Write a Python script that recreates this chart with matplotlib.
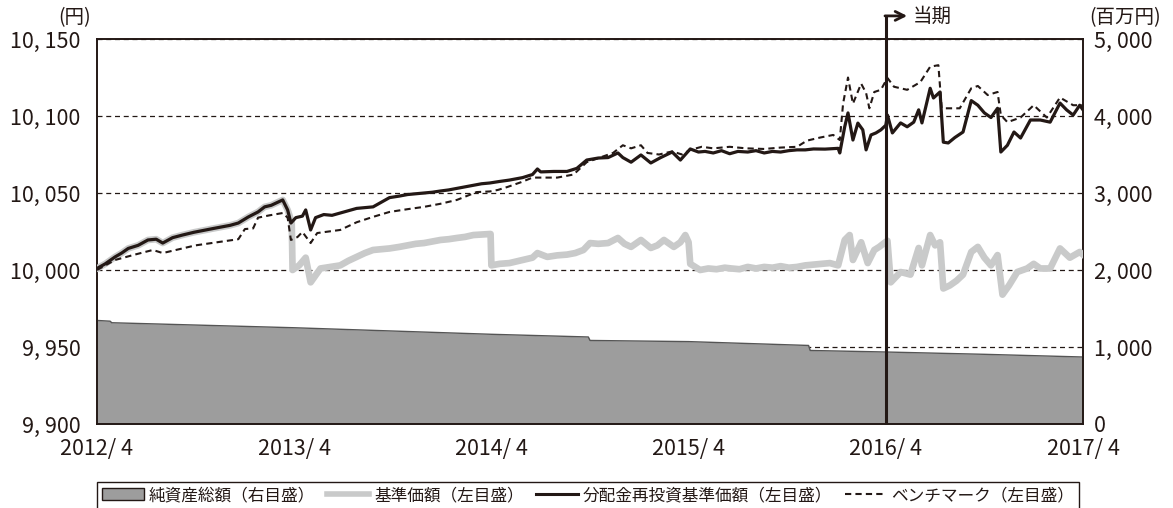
import matplotlib
matplotlib.use("Agg")
import matplotlib.pyplot as plt
from matplotlib.ticker import FuncFormatter, FixedLocator
from matplotlib.patches import Patch
from matplotlib.lines import Line2D

# ---------------- data (x = months since 2012/4) ----------------
xtick_pos = [0, 12, 24, 36, 48, 60]
xtick_labels = ["2012/ 4", "2013/ 4", "2014/ 4", "2015/ 4", "2016/ 4", "2017/ 4"]

# 分配金再投資基準価額 (left axis, yen)
reinv_x = [0, 0.5, 1.1, 1.5, 1.9, 2.5, 3.1, 3.6, 4.0, 4.6, 5.2, 5.9, 6.6, 7.1, 7.6, 8.1, 8.6,
           9.2, 9.8, 10.2, 10.6, 11.0, 11.3, 11.6, 11.8, 12.1, 12.5, 12.7, 13.0, 13.3, 13.8,
           14.3, 14.8, 15.3, 15.8, 16.3, 16.8, 17.3, 17.8, 18.4, 18.9, 19.4, 19.9, 20.4, 20.9,
           21.4, 21.9, 22.4, 22.9, 23.4, 23.9, 24.5, 25.1, 25.9, 26.5, 26.8, 27.0, 27.8, 28.6,
           29.2, 29.8, 30.5, 31.1, 31.7, 32.0, 32.5, 33.1, 33.7, 34.3, 35.0, 35.5, 36.1, 36.6,
           37.0, 37.5, 38.0, 38.5, 39.0, 39.6, 40.1, 40.6, 41.1, 41.6, 42.1, 42.6, 43.1, 43.6,
           44.3, 45.1, 45.2, 45.5, 45.7, 46.0, 46.3, 46.6, 46.8, 47.1, 47.4, 47.7, 48.0, 48.1,
           48.4, 48.9, 49.3, 49.7, 50.0, 50.2, 50.5, 50.7, 50.9, 51.3, 51.5, 51.8, 52.2, 52.7,
           53.2, 53.6, 54.0, 54.4, 54.8, 55.0, 55.4, 55.8, 56.2, 56.8, 57.4, 58.0, 58.6, 59.0,
           59.4, 59.8, 60.0]
reinv_y = [10001, 10004, 10008.5, 10011, 10014, 10016, 10019.5, 10020, 10017.5, 10021, 10022.7,
           10024.5, 10026, 10027, 10028, 10029, 10030.5, 10034.4, 10037.7, 10041, 10042, 10044,
           10045.5, 10039, 10030.5, 10034, 10035, 10039, 10026, 10034, 10036, 10035.5, 10037,
           10038.5, 10040, 10040.5, 10041, 10044, 10047, 10048, 10049, 10049.5, 10050, 10050.5,
           10051.3, 10052, 10053, 10054, 10055, 10056, 10056.5, 10057.5, 10058.4, 10060, 10062,
           10065.6, 10063.7, 10064, 10064, 10066, 10071.4, 10072.7, 10073, 10076, 10073, 10070,
           10074.7, 10069.5, 10073, 10076.6, 10071.4, 10078.6, 10076.6, 10077, 10076, 10077.5,
           10075.5, 10077, 10076.6, 10077.5, 10076, 10077, 10076.6, 10077.5, 10078, 10078,
           10078.6, 10078.5, 10079, 10076, 10093, 10102, 10084.4, 10095.4, 10091, 10078, 10087.7,
           10089, 10091, 10094, 10100.6, 10089, 10095.5, 10093, 10096, 10104, 10095.5, 10109,
           10118, 10111.7, 10115.6, 10083, 10082.5, 10086, 10089.6, 10110, 10107, 10102, 10099,
           10105, 10076.6, 10081, 10089.6, 10085.7, 10097.4, 10097.4, 10096, 10108.4, 10104,
           10100.6, 10107, 10104]

# 基準価額 (left axis, yen)
base_x = [0, 0.5, 1.1, 1.5, 1.9, 2.5, 3.1, 3.6, 4.0, 4.6, 5.2, 5.9, 6.6, 7.1, 7.6, 8.1, 8.6,
          9.2, 9.8, 10.2, 10.6, 11.0, 11.3, 11.6, 11.85, 11.9, 12.3, 12.7, 13.0, 13.6, 14.2,
          14.8, 15.3, 15.8, 16.3, 16.8, 17.3, 17.8, 18.4, 18.9, 19.4, 19.9, 20.4, 20.9, 21.4,
          21.9, 22.4, 22.9, 23.4, 23.95, 24.0, 24.5, 25.1, 25.9, 26.5, 26.8, 27.4, 28.0, 28.6,
          29.1, 29.6, 30.0, 30.5, 31.1, 31.7, 32.1, 32.5, 33.1, 33.7, 34.1, 34.5, 35.1, 35.5,
          35.8, 36.0, 36.1, 36.7, 37.2, 37.7, 38.2, 38.6, 39.1, 39.6, 40.1, 40.6, 41.1, 41.6,
          42.1, 42.6, 43.1, 43.6, 44.1, 44.6, 45.1, 45.5, 45.8, 46.0, 46.5, 46.9, 47.3, 47.6,
          47.9, 48.1, 48.3, 48.9, 49.5, 50.0, 50.2, 50.7, 51.0, 51.3, 51.5, 51.9, 52.3, 52.7,
          53.2, 53.6, 54.0, 54.4, 54.8, 55.1, 55.5, 56.0, 56.6, 57.0, 57.4, 58.0, 58.6, 59.2,
          59.8, 60.0]
base_y = [10001, 10004, 10008.5, 10011, 10014, 10016, 10019.5, 10020, 10017.5, 10021, 10022.7,
          10024.5, 10026, 10027, 10028, 10029, 10030.5, 10034.4, 10037.7, 10041, 10042, 10044,
          10045.5, 10039, 10031, 10000, 10003, 10008, 9992, 10001, 10002, 10003, 10006, 10008.5,
          10011, 10013, 10013.5, 10014, 10015, 10016, 10017, 10017.5, 10018.5, 10019.5, 10020,
          10020.8, 10021.5, 10022.7, 10023, 10023.4, 10003, 10004, 10004.5, 10006.5, 10008,
          10011, 10008.5, 10009.5, 10010, 10011, 10013, 10017.5, 10017, 10017.5, 10020.8, 10017,
          10015, 10019.5, 10014.3, 10016, 10019.5, 10015, 10018, 10022.7, 10018, 10004, 10000,
          10001, 10000.5, 10001.5, 10001, 10000.5, 10002, 10001, 10002, 10001.5, 10002.5,
          10001.5, 10002, 10003, 10003.5, 10004, 10004.5, 10003, 10019.5, 10022.7, 10006.5,
          10018, 10004.5, 10013, 10015, 10017.5, 10019, 9992, 9998.7, 9997, 10014.3, 10003,
          10022.7, 10016, 10018, 9988, 9990, 9993, 9997, 10011.7, 10015, 10008, 10003, 10009.7,
          9984, 9990, 9998.7, 10001, 10004, 10001, 10001, 10014, 10008, 10011.7, 10010]

# ベンチマーク (left axis)
bench_x = [0, 1.1, 2.3, 3.4, 4.0, 5.0, 6.0, 7.3, 8.6, 9.0, 9.5, 9.8, 10.5, 11.3, 11.6, 11.8,
           12.2, 12.5, 13.0, 13.4, 14.1, 14.8, 15.8, 16.8, 17.8, 18.9, 19.9, 20.9, 21.9, 23.1,
           23.9, 24.4, 25.0, 25.8, 26.5, 27.2, 28.0, 29.0, 29.8, 30.6, 31.4, 32.0, 32.5, 33.1,
           33.5, 34.2, 35.0, 35.6, 36.1, 36.8, 37.5, 38.5, 39.5, 40.6, 41.6, 42.6, 43.2, 44.0,
           44.8, 45.2, 45.4, 45.7, 46.0, 46.5, 46.8, 47.0, 47.3, 47.7, 48.1, 48.5, 49.3, 50.1,
           50.7, 51.2, 51.4, 52.5, 53.2, 53.6, 54.2, 54.8, 55.0, 55.4, 56.2, 57.0, 57.8, 58.6,
           59.4, 60.0]
bench_y = [10000, 10006.5, 10010, 10013, 10011, 10013.5, 10016, 10018, 10020, 10026.6, 10027,
           10034, 10035.5, 10037, 10034, 10019.5, 10021.4, 10024.7, 10017.5, 10024, 10025,
           10026, 10031, 10034.5, 10037.7, 10039.5, 10041, 10043, 10045.5, 10050.6, 10051,
           10052, 10054, 10057, 10060, 10060, 10060, 10062, 10070, 10073, 10076, 10081, 10079,
           10081, 10076, 10075, 10077, 10075, 10078, 10080, 10079, 10080, 10079, 10078.6,
           10079.5, 10080, 10084, 10086, 10087.7, 10084.4, 10108, 10125, 10108, 10121, 10115,
           10105, 10115.6, 10117, 10124.7, 10119, 10117, 10122, 10132, 10133, 10105, 10105,
           10118, 10119.5, 10113.6, 10115.6, 10100.6, 10096, 10099, 10107, 10099, 10112,
           10107, 10107]

# 純資産総額 (right axis, million yen)
nav_x = [0, 0.8, 0.9, 12, 24, 29.9, 30.0, 36, 43.3, 43.4, 48, 54, 60]
nav_y = [1345, 1335, 1315, 1250, 1165, 1130, 1085, 1070, 1020, 955, 935, 905, 870]

left_ticks = [9900, 9950, 10000, 10050, 10100, 10150]
right_ticks = [0, 1000, 2000, 3000, 4000, 5000]
current_period = 48

# ---------------- style ----------------
plt.rcParams['font.family'] = ['Noto Sans CJK JP', 'DejaVu Sans']
INK = '#231815'
AREA = '#9d9d9d'
LIGHT = '#c9caca'

W, H = 1173, 508
fig = plt.figure(figsize=(W / 100, H / 100), dpi=100)
L, R, T, B = 97, 1083, 39, 424
ax = fig.add_axes([L / W, 1 - B / H, (R - L) / W, (B - T) / H])
ax2 = ax.twinx()
ax.set_zorder(ax2.get_zorder() + 1)
ax.patch.set_visible(False)

# right axis: area + grid
ax2.set_ylim(0, 5000)
ax2.yaxis.set_major_locator(FixedLocator(right_ticks))
ax2.set_axisbelow(True)
ax2.yaxis.grid(True, linestyle=(0, (4, 3)), color=INK, lw=0.9)
ax2.fill_between(nav_x, 0, nav_y, color=AREA, zorder=2, lw=0)
ax2.plot(nav_x, nav_y, color='#555555', lw=1.0, zorder=3)

# left axis: lines
ax.set_xlim(0, 60)
ax.set_ylim(9900, 10150)
ax.plot(base_x, base_y, color=LIGHT, lw=4.8, zorder=3, solid_joinstyle='round')
ax.plot(reinv_x, reinv_y, color=INK, lw=2.3, zorder=4)
ax.plot(bench_x, bench_y, color=INK, lw=1.5, ls=(0, (3, 2)), zorder=5)

fmt = FuncFormatter(lambda v, p: f"{int(round(v)):,}".replace(",", ", "))
ax.yaxis.set_major_locator(FixedLocator(left_ticks))
ax.yaxis.set_major_formatter(fmt)
ax2.yaxis.set_major_formatter(fmt)
ax.set_xticks(xtick_pos)
ax.set_xticklabels(xtick_labels)

ax.tick_params(axis='y', length=0, pad=12, labelsize=15.5, labelcolor=INK)
ax.tick_params(axis='x', length=0, pad=10, labelsize=15.5, labelcolor=INK)
ax2.tick_params(axis='y', length=0, pad=8, labelsize=15.5, labelcolor=INK)
for a in (ax, ax2):
    for s in a.spines.values():
        s.set_color(INK)
        s.set_linewidth(1.2)

# current period marker
ytop = 10165
ax.plot([current_period, current_period], [9900, ytop], color=INK, lw=2.2,
        clip_on=False, zorder=6, solid_capstyle='butt')
ax.annotate("", xy=(current_period + 1.3, ytop), xytext=(current_period - 0.05, ytop),
            arrowprops=dict(arrowstyle='->', lw=2.0, color=INK, shrinkA=0, shrinkB=0,
                            mutation_scale=16),
            annotation_clip=False, zorder=6)
ax.text(current_period + 1.65, ytop, "当期", fontsize=14, color=INK,
        va='center', ha='left', clip_on=False)

fig.text(75 / W, 1 - 18 / H, "(円)", fontsize=14, color=INK, ha='center', va='center')
fig.text(1125 / W, 1 - 18 / H, "(百万円)", fontsize=14, color=INK, ha='center', va='center')

# legend
handles = [Patch(facecolor=AREA, edgecolor=INK, lw=1.0),
           Line2D([], [], color=LIGHT, lw=4),
           Line2D([], [], color=INK, lw=2.2),
           Line2D([], [], color=INK, lw=1.5, ls=(0, (3, 2)))]
labels = ["純資産総額（右目盛）", "基準価額（左目盛）",
          "分配金再投資基準価額（左目盛）", "ベンチマーク（左目盛）"]
leg = fig.legend(handles, labels, ncol=4, loc='upper left',
                 bbox_to_anchor=(L / W, 1 - 482 / H), fontsize=12,
                 frameon=True, fancybox=False, edgecolor=INK, framealpha=1,
                 handlelength=2.5, handletextpad=0.3, columnspacing=0.75,
                 borderpad=0.3, borderaxespad=0)
leg.get_frame().set_linewidth(1.0)
for t in leg.get_texts():
    t.set_color(INK)

fig.savefig("out.png", dpi=100)
